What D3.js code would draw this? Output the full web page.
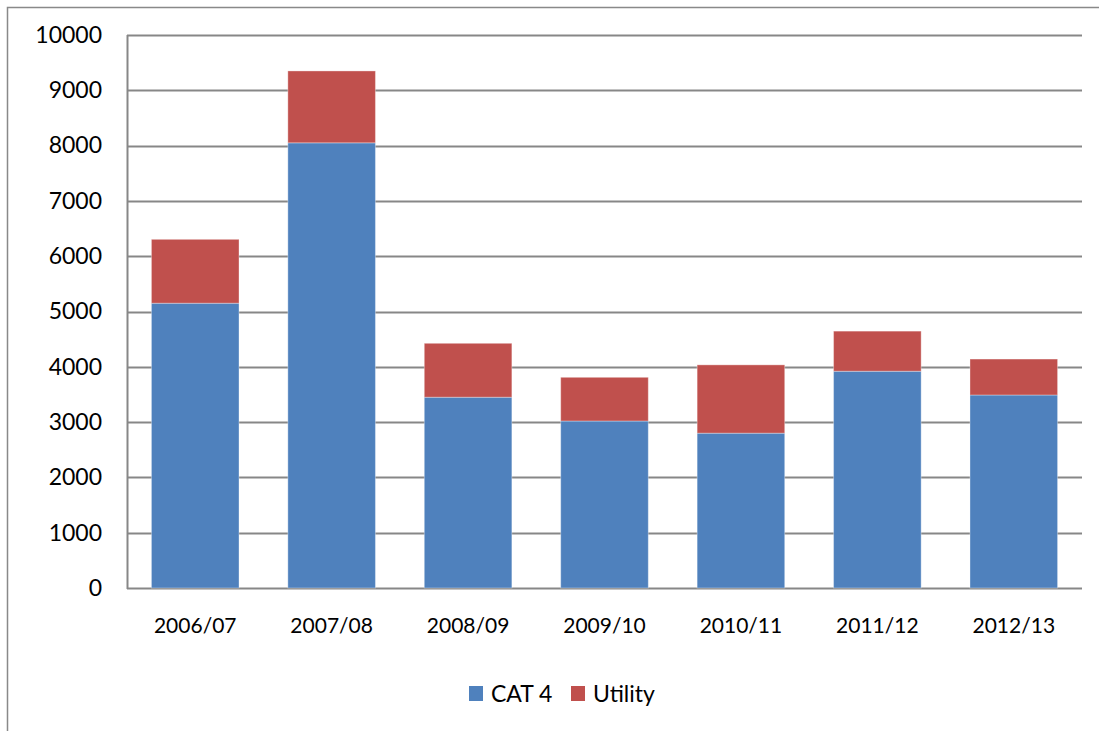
<!DOCTYPE html>
<html>
<head>
<meta charset="utf-8">
<script src="https://cdn.jsdelivr.net/npm/d3@7"></script>
<style>
  body { margin: 0; background: #fff; }
  svg { display: block; font-family: Lato, "Open Sans", sans-serif; }
</style>
</head>
<body>
<svg id="chart" width="1099" height="731"></svg>
<script>
// data
var years = ["2006/07", "2007/08", "2008/09", "2009/10", "2010/11", "2011/12", "2012/13"];
var cat4 = [5150, 8050, 3450, 3020, 2800, 3920, 3490];
var utility = [1155, 1300, 975, 790, 1235, 725, 650];
var seriesNames = ["CAT 4", "Utility"];
var seriesColors = ["#4F81BD", "#C0504D"];
var yTicks = [0, 1000, 2000, 3000, 4000, 5000, 6000, 7000, 8000, 9000, 10000];

var svg = d3.select("#chart");

// outer chart border (only top + left show in the frame)
svg.append("rect")
    .attr("x", 7.5).attr("y", 7.5)
    .attr("width", 1100).attr("height", 740)
    .attr("fill", "none")
    .attr("stroke", "#898989")
    .attr("stroke-width", 1.5);

var plotLeft = 127, plotRight = 1082, plotTop = 35, plotBottom = 588;

var xScale = d3.scaleBand()
    .domain(years)
    .range([plotLeft, plotRight])
    .paddingInner(0.358)
    .paddingOuter(0.179);

var yScale = d3.scaleLinear()
    .domain([0, 10000])
    .range([plotBottom, plotTop]);

// gridlines
svg.append("g")
    .selectAll("line")
    .data(yTicks)
    .enter()
    .append("line")
    .attr("x1", plotLeft)
    .attr("x2", plotRight)
    .attr("y1", function(d){ return Math.round(yScale(d)) + 0.5; })
    .attr("y2", function(d){ return Math.round(yScale(d)) + 0.5; })
    .attr("stroke", "#878787")
    .attr("stroke-width", 2);

// y axis line
svg.append("line")
    .attr("x1", plotLeft + 0.5).attr("x2", plotLeft + 0.5)
    .attr("y1", plotTop).attr("y2", plotBottom + 1)
    .attr("stroke", "#878787")
    .attr("stroke-width", 2);

var table = years.map(function(y, i){
    return { year: y, "CAT 4": cat4[i], "Utility": utility[i] };
});

var stacked = d3.stack().keys(seriesNames)(table);

svg.append("g")
    .selectAll("g")
    .data(stacked)
    .enter()
    .append("g")
    .attr("fill", function(d, i){ return seriesColors[i]; })
    .selectAll("rect")
    .data(function(d){ return d; })
    .enter()
    .append("rect")
    .attr("x", function(d){ return xScale(d.data.year); })
    .attr("y", function(d){ return yScale(d[1]); })
    .attr("width", xScale.bandwidth())
    .attr("height", function(d){ return yScale(d[0]) - yScale(d[1]); })
    .attr("stroke", "rgba(255,255,255,0.35)")
    .attr("stroke-width", 1);

// y tick labels
var yAxis = d3.axisLeft(yScale)
    .tickValues(yTicks)
    .tickSize(0)
    .tickPadding(25)
    .tickFormat(d3.format("d"));

svg.append("g")
    .attr("transform", "translate(" + plotLeft + ",0)")
    .call(yAxis)
    .call(function(g){ g.select(".domain").remove(); })
    .selectAll("text")
    .attr("font-family", "Lato, sans-serif")
    .attr("font-size", 23)
    .attr("fill", "#000");

// x labels
var xAxis = d3.axisBottom(xScale)
    .tickSize(0)
    .tickPadding(30);

svg.append("g")
    .attr("transform", "translate(0," + plotBottom + ")")
    .call(xAxis)
    .call(function(g){ g.select(".domain").remove(); })
    .selectAll("text")
    .attr("font-family", "Lato, sans-serif")
    .attr("font-size", 21)
    .attr("fill", "#000");

// legend
var legendX = [469, 571];
var legend = svg.append("g")
    .selectAll("g")
    .data(seriesNames)
    .enter()
    .append("g")
    .attr("transform", function(d, i){ return "translate(" + legendX[i] + ",686)"; });

legend.append("rect")
    .attr("width", 14).attr("height", 15)
    .attr("fill", function(d, i){ return seriesColors[i]; });

legend.append("text")
    .attr("x", 22)
    .attr("y", 16)
    .attr("font-size", 23)
    .attr("fill", "#000")
    .text(function(d){ return d; });
</script>
</body>
</html>
